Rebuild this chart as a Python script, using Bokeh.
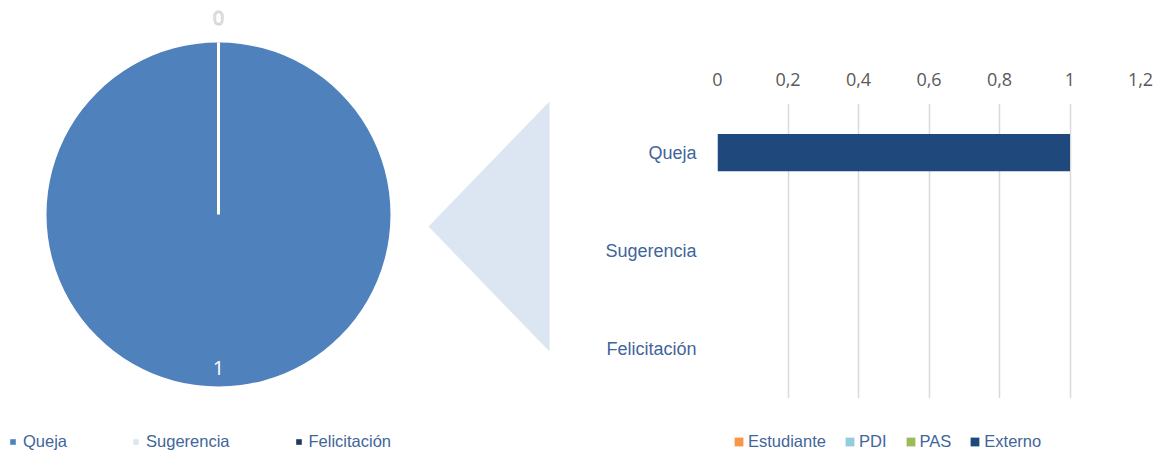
import math
from bokeh.plotting import figure
from bokeh.layouts import row, column
from bokeh.models import ColumnDataSource, Legend, LegendItem, FixedTicker, Range1d, FactorRange
from bokeh.core.properties import value
from bokeh.embed import file_html
from bokeh.resources import INLINE

# ---------------- data ----------------
pie_categories = ["Queja", "Sugerencia", "Felicitación"]
pie_values = [1, 0, 0]
pie_colors = ["#4F81BD", "#DCE6F2", "#1F3864"]

bar_categories = ["Queja", "Sugerencia", "Felicitación"]
bar_series = ["Estudiante", "PDI", "PAS", "Externo"]
estudiante = [0, 0, 0]
pdi = [0, 0, 0]
pas = [0, 0, 0]
externo = [1, 0, 0]
bar_colors = ["#F79646", "#92CDDC", "#9BBB59", "#1F497D"]

x_ticks = [0, 0.2, 0.4, 0.6, 0.8, 1.0, 1.2]
x_tick_labels = ["0", "0,2", "0,4", "0,6", "0,8", "1", "1,2"]

TXT = "#41659A"
SANS = "Liberation Sans"
H = 454
W1, W2 = 568, 599
H2 = 398

# ---------------- left: pie ----------------
p1 = figure(width=W1, height=H, x_range=Range1d(0, W1), y_range=Range1d(0, H),
            x_axis_type=None, y_axis_type=None, output_backend="svg",
            toolbar_location=None, min_border=0, outline_line_color=None)
p1.frame_align = False
p1.xgrid.visible = False
p1.ygrid.visible = False

# connector triangle
p1.patch([428, 549, 549], [228, 353, 103], fill_color="#DCE6F2", line_color=None)

cx, cy, R = 218, 240, 172
total = float(sum(pie_values))
starts, ends, mids = [], [], []
cum = 0.0
full = 2 * math.pi - 1e-4
for v in pie_values:
    a0 = math.pi / 2 - 2 * math.pi * cum / total
    span = min(2 * math.pi * v / total, full)
    a1 = a0 - span
    starts.append(a0)
    ends.append(a1)
    mids.append((a0 + a1) / 2)
    cum += v

pie_src = ColumnDataSource(dict(
    x=[cx] * len(pie_values), y=[cy] * len(pie_values),
    r=[R if v > 0 else 0 for v in pie_values],
    s=starts, e=ends, color=pie_colors, cat=pie_categories))
pie_r = p1.wedge(x="x", y="y", radius="r", radius_units="screen",
                 start_angle="s", end_angle="e", direction="clock",
                 fill_color="color", line_color=None, source=pie_src)

# white slice borders
sep = [a for a, v in zip(starts, pie_values) if v > 0]
p1.ray(x=[cx] * len(sep), y=[cy] * len(sep), length=R, length_units="screen",
       angle=sep, line_color="white", line_width=3)

# value labels (large slice inside, zero slices outside)
in_x, in_y, in_t, out_x, out_y, out_t = [], [], [], [], [], []
for v, m in zip(pie_values, mids):
    if v / total > 0.1:
        in_x.append(cx + 0.89 * R * math.cos(m)); in_y.append(cy + 0.89 * R * math.sin(m))
        in_t.append(str(v))
    else:
        out_x.append(cx + 1.14 * R * math.cos(m)); out_y.append(cy + 1.14 * R * math.sin(m))
        out_t.append(str(v))
p1.text(x=in_x, y=in_y, text=in_t, text_font=value("Open Sans"), text_font_size="20px",
        text_color="white", text_align="center", text_baseline="middle")
p1.text(x=out_x[:1], y=out_y[:1], text=out_t[:1], text_font=value("Open Sans"),
        text_font_size="20px", text_color="white", text_outline_color="#D0D0D0",
        text_align="center", text_baseline="middle")

leg1 = Legend(items=[LegendItem(label=c, renderers=[pie_r], index=i)
                     for i, c in enumerate(pie_categories)],
              orientation="horizontal", location=(9, 3), glyph_width=7, glyph_height=7,
              label_standoff=7, spacing=65, padding=0, margin=0, border_line_color=None,
              background_fill_alpha=0, label_text_font=SANS, label_text_font_size="16.5px",
              label_text_color=TXT, label_height=20)
p1.add_layout(leg1)

# ---------------- right: bars ----------------
src = ColumnDataSource(dict(cat=bar_categories, Estudiante=estudiante, PDI=pdi,
                            PAS=pas, Externo=externo))
p2 = figure(width=W2, height=H2, y_range=list(reversed(bar_categories)),
            x_range=Range1d(0, 1.2), x_axis_location="above", output_backend="svg",
            toolbar_location=None, min_border_left=149, min_border_right=27,
            min_border_top=103, min_border_bottom=0, outline_line_color=None)
p2.frame_align = False
p2.hbar_stack(bar_series, y="cat", height=0.38, fill_color=bar_colors,
              line_color=None, source=src)

p2.xaxis.ticker = FixedTicker(ticks=x_ticks)
p2.xaxis.major_label_overrides = dict(zip(x_ticks, x_tick_labels))
p2.xaxis.axis_line_color = None
p2.xaxis.major_tick_line_color = None
p2.xaxis.minor_tick_line_color = None
p2.xaxis.major_label_text_font = "Open Sans"
p2.xaxis.major_label_text_font_size = "18px"
p2.xaxis.major_label_text_color = "#595959"
p2.xaxis.major_label_standoff = 12

p2.yaxis.axis_line_color = None
p2.yaxis.major_tick_line_color = None
p2.yaxis.minor_tick_line_color = None
p2.yaxis.major_label_text_font = SANS
p2.yaxis.major_label_text_font_size = "18px"
p2.yaxis.major_label_text_color = TXT
p2.yaxis.major_label_standoff = 15

p2.xgrid.grid_line_color = "#D9D9D9"
p2.xgrid.grid_line_width = 1.5
p2.ygrid.grid_line_color = None

# legend strip under the bar chart (same series; its ranges show none of the bars)
p3 = figure(width=W2, height=H - H2, x_range=Range1d(10, 11), y_range=FactorRange(factors=["-"]),
            x_axis_type=None, y_axis_type=None, output_backend="svg",
            toolbar_location=None, min_border=0, outline_line_color=None)
p3.frame_align = False
p3.xgrid.visible = False
p3.ygrid.visible = False
leg_bars = p3.hbar_stack(bar_series, y="cat", height=0.38, fill_color=bar_colors,
                         line_color=None, source=src)
leg2 = Legend(items=[LegendItem(label=s, renderers=[r]) for s, r in zip(bar_series, leg_bars)],
              orientation="horizontal", location=(165, 3), glyph_width=11, glyph_height=11,
              label_standoff=4, spacing=18, padding=0, margin=0, border_line_color=None,
              background_fill_alpha=0, label_text_font=SANS, label_text_font_size="16.5px",
              label_text_color=TXT, label_height=20)
p3.add_layout(leg2)

lay = row(p1, column(p2, p3))
open("out.html", "w").write(file_html(lay, INLINE))
